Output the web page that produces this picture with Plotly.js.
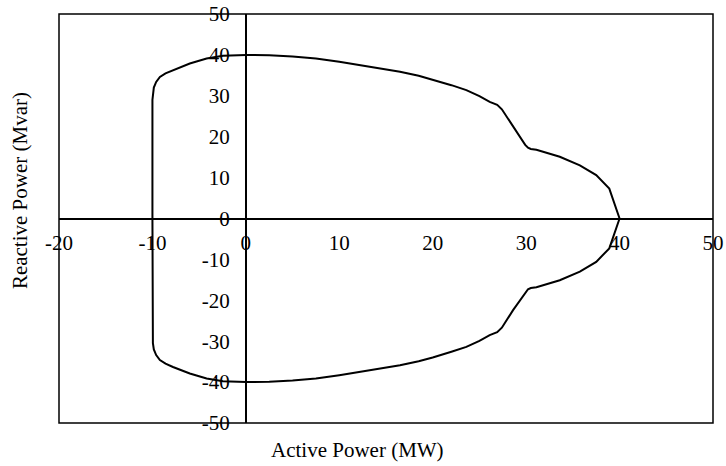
<!DOCTYPE html>
<html>
<head>
<meta charset="utf-8">
<script src="https://cdn.plot.ly/plotly-3.0.1.min.js"></script>
<style>html,body{margin:0;padding:0;background:#fff;}#chart{width:726px;height:466px;}</style>
</head>
<body>
<div id="chart"></div>
<script>
// Capability curve: Active Power (MW) vs Reactive Power (Mvar)
const activePower = [40, 38.9, 37.5, 35.75, 33.6, 31.1, 30.5, 30.2, 29.9, 28.6, 27.4, 26.9, 26.1, 25.0, 23.6, 22.0, 20.0, 18.5, 16.5, 13.6, 12.0, 10.0, 7.5, 5.0, 2.5, 0, -2.45, -4.2, -6.0, -7.8, -8.6, -9.2, -9.6, -9.85, -9.95, -10, -10,
  -10, -9.95, -9.85, -9.6, -9.2, -8.6, -7.8, -6.0, -4.2, -2.45, 0, 2.5, 5.0, 7.5, 10.0, 12.0, 13.6, 16.5, 18.5, 20.0, 22.0, 23.6, 25.0, 26.1, 26.9, 27.4, 28.6, 29.9, 30.2, 30.5, 31.1, 33.6, 35.75, 37.5, 38.9, 40];
const reactivePower = [0, 7.3, 10.6, 13.0, 15.1, 16.8, 17.0, 17.3, 18.0, 22.4, 26.7, 27.8, 28.5, 29.9, 31.4, 32.6, 34.0, 34.9, 35.9, 37.0, 37.6, 38.3, 39.1, 39.6, 39.9, 40, 39.8, 39.1, 37.9, 36.3, 35.5, 34.6, 33.4, 32.0, 30.5, 29, 0,
  -29, -30.5, -32.0, -33.4, -34.6, -35.5, -36.3, -37.9, -39.1, -39.8, -40, -39.9, -39.6, -39.1, -38.3, -37.6, -37.0, -35.9, -34.9, -34.0, -32.6, -31.4, -29.9, -28.5, -27.8, -26.7, -22.4, -18.0, -17.3, -17.0, -16.8, -15.1, -13.0, -10.6, -7.3, 0];

const xTickVals = [-20, -10, 0, 10, 20, 30, 40, 50];
const xTickText = ["-20", "-10", "0", "10", "20", "30", "40", "50"];
const yTickVals = [-50, -40, -30, -20, -10, 0, 10, 20, 30, 40, 50];
const yTickText = ["-50", "-40", "-30", "-20", "-10", "0", "10", "20", "30", "40", "50"];

const xTitle = "Active Power (MW)";
const yTitle = "Reactive Power (Mvar)";

const font = {family: "Liberation Serif, Times New Roman, serif", size: 21, color: "#000"};

const trace = {
  x: activePower, y: reactivePower, type: "scatter", mode: "lines",
  line: {color: "#000", width: 2}, hoverinfo: "skip", showlegend: false
};

const layout = {
  width: 726, height: 466,
  margin: {l: 59, r: 13, t: 14, b: 43},
  paper_bgcolor: "#fff", plot_bgcolor: "#fff",
  font: font,
  showlegend: false,
  xaxis: {
    range: [-20, 50], anchor: "free", position: 0.5, automargin: false,
    showgrid: false, showline: false, zeroline: true, zerolinecolor: "#000", zerolinewidth: 2,
    tickmode: "array", tickvals: xTickVals, ticktext: xTickText, ticks: "",
    tickfont: font, ticklabelstandoff: 9
  },
  yaxis: {
    range: [-50, 50], anchor: "free", position: 20/70, automargin: false,
    showgrid: false, showline: false, zeroline: true, zerolinecolor: "#000", zerolinewidth: 2,
    tickmode: "array", tickvals: yTickVals, ticktext: yTickText, ticks: "",
    tickfont: font, ticklabelstandoff: 16
  },
  shapes: [{type: "rect", xref: "paper", yref: "paper", x0: 0, x1: 1, y0: 0, y1: 1,
    line: {color: "#000", width: 1.5}, fillcolor: "rgba(0,0,0,0)"}],
  annotations: [
    {text: xTitle, xref: "paper", yref: "paper", x: 0.4557, y: -0.066, xanchor: "center", yanchor: "middle", showarrow: false, font: font},
    {text: yTitle, xref: "paper", yref: "paper", x: -0.0596, y: 0.567, xanchor: "center", yanchor: "middle", textangle: -90, showarrow: false, font: font}
  ]
};

Plotly.newPlot("chart", [trace], layout, {staticPlot: true, displayModeBar: false});
</script>
</body>
</html>
